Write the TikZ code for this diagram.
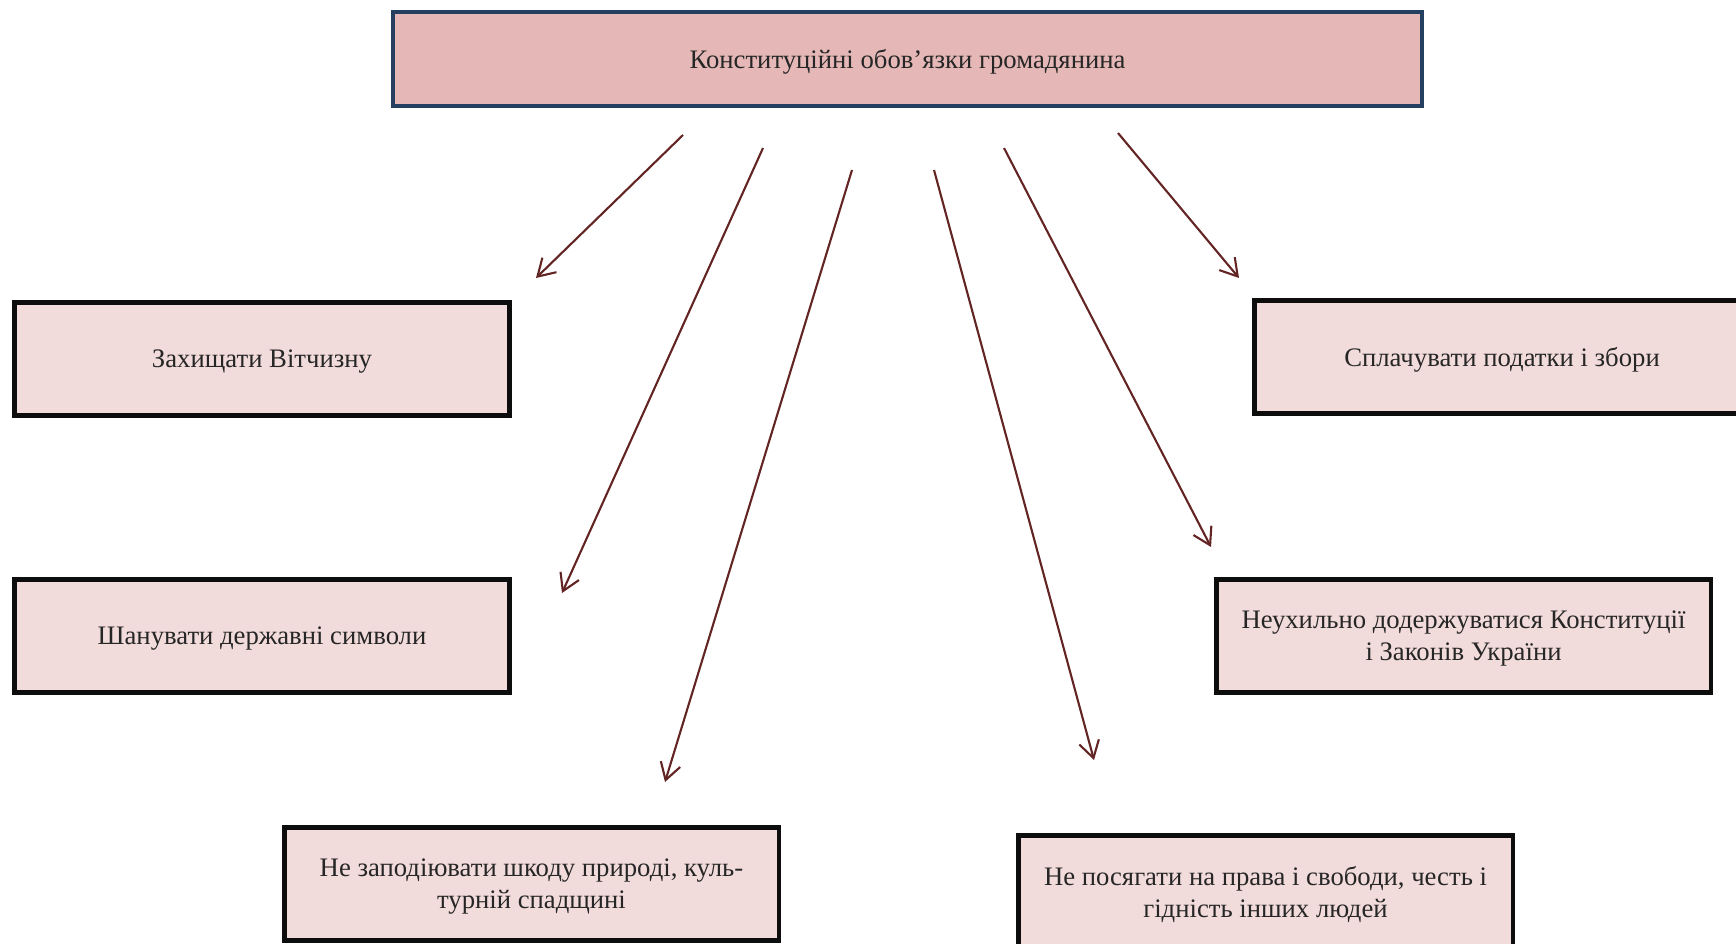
\documentclass[tikz,border=0pt]{standalone}
\usepackage{fontspec}
\setmainfont{Liberation Serif}
\usetikzlibrary{arrows.meta}
\definecolor{headfill}{HTML}{E5B8B7}
\definecolor{headline}{HTML}{243F60}
\definecolor{dutyfill}{HTML}{F2DCDB}
\definecolor{arrowred}{HTML}{632523}
\begin{document}
\begin{tikzpicture}[x=0.02cm,y=-0.02cm,
  head/.style={shape=rectangle,draw=headline,fill=headfill,line width=2.3pt,minimum width=20.6cm,minimum height=1.88cm,align=center,text depth=0pt,font=\fontsize{15.2}{18.3}\selectfont,text=black!85},
  duty/.style={shape=rectangle,draw=black!95,fill=dutyfill,line width=2.8pt,minimum width=9.9cm,minimum height=2.27cm,align=center,text depth=0pt,font=\fontsize{15.2}{18.3}\selectfont,text=black!85},
  link/.style={-{Straight Barb[length=9.5pt,width=11.5pt]},draw=arrowred,line width=1.2pt}]
\useasboundingbox (0,0) rectangle (1736,943);
\clip (0,0) rectangle (1736,943);
\node[head] (0) at (907.5,59) {Конституційні обов’язки громадянина};
\node[duty] (1) at (262,359) {Захищати Вітчизну};
\node[duty] (2) at (262,636) {Шанувати державні символи};
\node[duty] (3) at (531.5,884) {Не заподіювати шкоду природі, куль-\\турній спадщині};
\node[duty] (4) at (1265.5,892) {Не посягати на права і свободи, честь і\\гідність інших людей};
\node[duty] (5) at (1502,357) {Сплачувати податки і збори};
\node[duty] (6) at (1463.5,636) {Неухильно додержуватися Конституції\\і Законів України};

\coordinate (s1) at (683,135);  \coordinate (e1) at (536,278);
\coordinate (s2) at (763,148);  \coordinate (e2) at (562,593);
\coordinate (s3) at (852,170);  \coordinate (e3) at (665,782);
\coordinate (s4) at (934,170);  \coordinate (e4) at (1094,760);
\coordinate (s5) at (1004,148); \coordinate (e5) at (1211,547);
\coordinate (s6) at (1118,133); \coordinate (e6) at (1239,278);

\draw [link] (s1) -- (e1);
\draw [link] (s2) -- (e2);
\draw [link] (s3) -- (e3);
\draw [link] (s4) -- (e4);
\draw [link] (s5) -- (e5);
\draw [link] (s6) -- (e6);
\end{tikzpicture}
\end{document}
